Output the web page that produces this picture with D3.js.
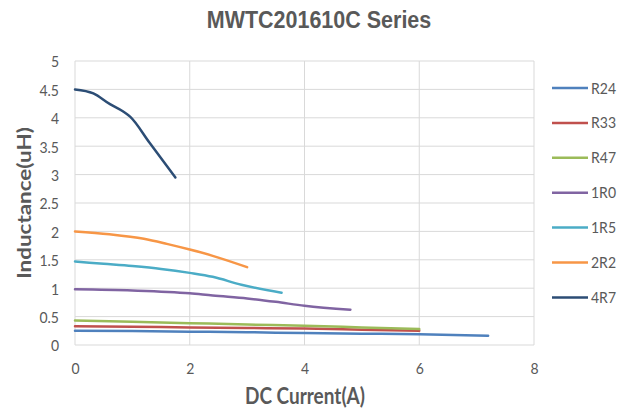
<!DOCTYPE html>
<html><head><meta charset="utf-8">
<script src="https://cdn.jsdelivr.net/npm/d3@7"></script>
<style>body{margin:0;background:#fff}svg{display:block}</style>
</head><body><svg id="c" width="626" height="410"></svg>
<script>
const seriesNames = ["R24","R33","R47","1R0","1R5","2R2","4R7"];
const seriesColors = ["#4F81BD","#C0504D","#9BBB59","#8064A2","#4BACC6","#F79646","#2C4D75"];
const xR24 = [0,1,2,3,4,5,6,7.2];
const yR24 = [0.25,0.245,0.235,0.225,0.21,0.2,0.19,0.165];
const xR33 = [0,1,2,3,4,5,6];
const yR33 = [0.33,0.32,0.31,0.3,0.29,0.27,0.25];
const xR47 = [0,1,2,3,4,5,6];
const yR47 = [0.43,0.41,0.385,0.36,0.34,0.31,0.28];
const x1R0 = [0,1,2,2.4,3,3.5,4,4.8];
const y1R0 = [0.98,0.96,0.91,0.87,0.82,0.76,0.69,0.62];
const x1R5 = [0,0.5,1,1.5,2,2.4,2.9,3.6];
const y1R5 = [1.47,1.43,1.39,1.34,1.27,1.2,1.06,0.92];
const x2R2 = [0,0.6,1.2,1.6,2,2.4,3];
const y2R2 = [2.0,1.95,1.87,1.78,1.68,1.57,1.37];
const x4R7 = [0,0.32,0.61,0.84,0.96,1.3,1.75];
const y4R7 = [4.5,4.43,4.24,4.11,4.02,3.56,2.95];
const xTicks = [0,2,4,6,8];
const yTicks = [0,0.5,1,1.5,2,2.5,3,3.5,4,4.5,5];

const xs = [xR24,xR33,xR47,x1R0,x1R5,x2R2,x4R7];
const ys = [yR24,yR33,yR47,y1R0,y1R5,y2R2,y4R7];

const svg = d3.select("#c");
const L=75,R=534,T=61,B=345;
const x = d3.scaleLinear().domain([0,8]).range([L,R]);
const y = d3.scaleLinear().domain([0,5]).range([B,T]);
const font = "Lato, 'Open Sans', sans-serif";
const tfont = "'Liberation Sans', Arial, sans-serif";
const gray = "#595959";
const SY = 1.15;

// gridlines
svg.append("g").selectAll("line").data(yTicks).join("line")
  .attr("x1",L).attr("x2",R).attr("y1",d=>y(d)).attr("y2",d=>y(d))
  .attr("stroke","#D9D9D9").attr("stroke-width",1);
svg.append("g").selectAll("line").data(xTicks).join("line")
  .attr("y1",T).attr("y2",B).attr("x1",d=>x(d)).attr("x2",d=>x(d))
  .attr("stroke","#D9D9D9").attr("stroke-width",1);

// axes labels
const xa = svg.append("g").attr("transform",`translate(0,${B})`)
  .call(d3.axisBottom(x).tickValues(xTicks).tickSize(0).tickFormat(d3.format("d")));
xa.select(".domain").remove();
xa.selectAll("text").attr("fill",gray).attr("font-size",14).attr("font-family",font)
  .attr("y",null).attr("dy",null).attr("transform",`translate(0,29) scale(1,${SY})`);
const ya = svg.append("g").attr("transform",`translate(${L},0)`)
  .call(d3.axisLeft(y).tickValues(yTicks).tickSize(0).tickFormat(d=>String(d)));
ya.select(".domain").remove();
ya.selectAll("text").attr("fill",gray).attr("font-size",14).attr("font-family",font)
  .attr("x",null).attr("dy",null).attr("transform",`translate(-16,5.8) scale(1,${SY})`);

// lines
const line = d3.line().x(d=>x(d[0])).y(d=>y(d[1])).curve(d3.curveMonotoneX);
seriesNames.forEach((n,i)=>{
  const pts = xs[i].map((v,j)=>[v,ys[i][j]]);
  svg.append("path").datum(pts).attr("d",line).attr("fill","none")
    .attr("stroke",seriesColors[i]).attr("stroke-width",2.5).attr("stroke-linecap","round");
});

// titles
svg.append("text").attr("transform",`translate(319,28) scale(1,${SY})`).attr("text-anchor","middle")
  .attr("font-family",tfont).attr("font-weight","bold").attr("font-size",21.5).attr("fill",gray)
  .text("MWTC201610C Series");
svg.append("text").attr("transform",`translate(305,404) scale(1,${SY})`).attr("text-anchor","middle")
  .attr("font-family",font).attr("font-weight","bold").attr("font-size",19).attr("fill",gray)
  .text("DC Current(A)");
svg.append("text").attr("transform",`translate(31,203) rotate(-90) scale(${SY},1)`).attr("text-anchor","middle")
  .attr("font-family",font).attr("font-weight","bold").attr("font-size",19.5).attr("fill",gray)
  .text("Inductance(uH)");

// legend
const lg = svg.append("g");
seriesNames.forEach((n,i)=>{
  const yy = 88 + i*34.9;
  lg.append("line").attr("x1",552).attr("x2",588).attr("y1",yy).attr("y2",yy)
    .attr("stroke",seriesColors[i]).attr("stroke-width",2.5);
  lg.append("text").attr("transform",`translate(591,${yy+5.5}) scale(1,${SY})`)
    .attr("font-family",font).attr("font-size",14).attr("fill",gray).text(n);
});
</script></body></html>
